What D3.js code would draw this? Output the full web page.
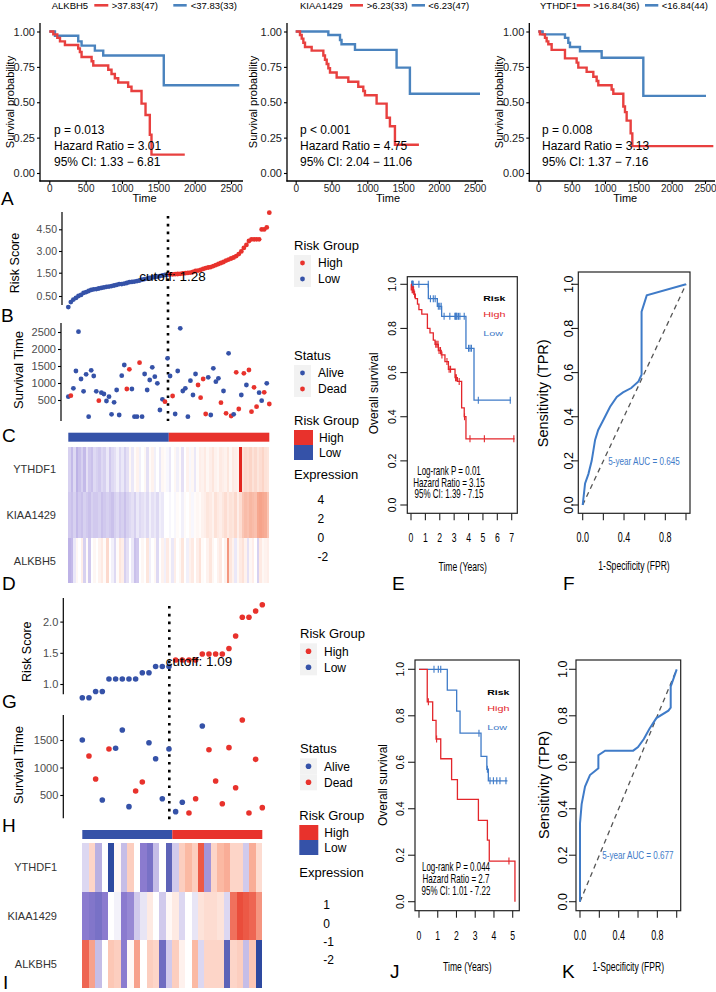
<!DOCTYPE html>
<html><head><meta charset="utf-8">
<script src="https://cdn.jsdelivr.net/npm/d3@7"></script>
<style>
body{margin:0;background:#fff}
text{font-family:"Liberation Sans",Arial,sans-serif}
</style></head>
<body>
<script>
// ---------------- DATA ----------------
// Top KM curves: [time(days), survival]; last entry = end of follow-up
const kmAlkbh5High = [[0,1],[55,0.98],[110,0.955],[147,0.93],[215,0.905],[398,0.88],[421,0.855],[444,0.82],[582,0.79],[605,0.76],[811,0.73],[856,0.70],[902,0.67],[948,0.64],[1085,0.61],[1131,0.58],[1269,0.49],[1324,0.41],[1383,0.27],[1406,0.13],[1864,0.13]];
const kmAlkbh5Low = [[0,1],[78,0.97],[398,0.93],[444,0.90],[627,0.865],[742,0.83],[1575,0.62],[2614,0.62]];
const kmKiaaHigh = [[0,1],[60,0.975],[84,0.95],[107,0.92],[130,0.89],[223,0.865],[386,0.83],[409,0.80],[433,0.77],[456,0.74],[479,0.71],[572,0.675],[735,0.645],[874,0.61],[944,0.58],[967,0.55],[1130,0.49],[1270,0.39],[1316,0.33],[1386,0.20],[1721,0.20]];
const kmKiaaLow = [[0,1],[456,0.975],[619,0.94],[640,0.91],[828,0.87],[1409,0.745],[1595,0.56],[2574,0.56]];
const kmYthdf1High = [[0,1],[25,0.98],[100,0.955],[125,0.93],[150,0.91],[200,0.87],[400,0.81],[575,0.78],[600,0.745],[725,0.715],[825,0.68],[875,0.65],[900,0.62],[1100,0.59],[1125,0.56],[1275,0.47],[1300,0.43],[1325,0.37],[1385,0.28],[1410,0.19],[2625,0.19]];
const kmYthdf1Low = [[0,1],[65,0.98],[400,0.955],[450,0.92],[475,0.89],[625,0.86],[950,0.815],[1575,0.545],[2515,0.545]];
const timeTicks = [0,500,1000,1500,2000,2500];
const survTicks = [0,0.25,0.5,0.75,1];

// Training cohort (B/C/D)
const riskB = [0.10,0.28,0.37,0.43,0.50,0.54,0.61,0.64,0.68,0.72,0.74,0.75,0.77,0.79,0.81,0.83,0.84,0.86,0.88,0.90,0.93,0.93,0.95,0.97,1.00,1.01,1.02,1.04,1.06,1.09,1.11,1.13,1.15,1.17,1.18,1.20,1.22,1.24,1.26,1.27,
1.29,1.29,1.31,1.33,1.36,1.40,1.44,1.47,1.51,1.55,1.62,1.65,1.69,1.76,1.82,1.86,1.89,1.96,2.03,2.10,2.17,2.24,2.34,2.41,2.48,2.55,2.65,2.79,2.97,3.21,3.42,3.69,3.81,3.81,3.81,3.81,4.49,4.49,4.63,5.65];
const survB = [597,626,844,1353,2510,1118,755,1255,10,1373,1206,755,480,715,676,470,597,79,432,794,59,1216,1529,824,1403,824,10,10,1597,10,1265,794,1088,1461,1186,990,206,520,451,1726,
1206,618,88,1353,2608,765,844,10,1069,647,1265,941,568,1118,88,1167,59,1432,1039,1138,421,765,108,1873,29,79,1314,235,647,1285,941,1382,157,873,304,715,480,726,990,382];
const statusB = [0,1,0,0,0,0,0,0,0,0, 0,0,1,0,0,0,0,0,0,0, 0,0,0,1,1,0,0,0,1,0, 0,0,0,0,0,0,0,0,1,0,
 0,1,0,0,0,0,0,0,0,0, 0,1,1,1,1,0,0,0,0,0, 1,0,1,0,1,0,1,1,0,1, 0,1,1,1,1,0,0,1,0,1];
const cutoffB = 1.28;
const riskTicksB = [0.5,1.5,3,4.5];
const survTicksB = [500,1000,1500,2000,2500];
const genes = ["YTHDF1","KIAA1429","ALKBH5"];
const exprB_YTHDF1 = [-0.6,-0.9,-0.5,-1.0,-0.8,-0.6,-0.9,-0.4,-0.7,-0.8,-0.5,-0.6,-0.7,
 -0.5,-0.6,-0.3,-0.7,-0.5,-0.4,-0.2,-0.5,-0.3,-0.6,-0.4,
 0.2,-0.3,0.1,0.3,-0.2,0.0,0.2,-0.4,0.1,0.3,-0.2,0.0,-0.3,0.2,0.1,-0.1,
 -0.3,0.0,0.2,-0.2,0.1,-0.4,0.0,0.3,-0.1,0.2,-0.3,0.1,0.4,
 0.3,0.5,0.2,0.4,0.6,0.3,0.2,0.5,0.4,0.3,0.6,0.2,0.5,0.4,0.3,
 4.3,
 0.7,0.9,0.8,1.0,0.7,0.9,0.6,0.8,1.0,0.7,0.6];
const exprB_KIAA1429 = [-0.7,-0.8,-0.6,-0.9,-0.7,-0.8,-0.6,-0.7,-0.8,-0.6,-0.7,-0.7,-0.6,-0.8,-0.7,-0.6,-0.7,-0.8,-0.6,-0.5,-0.7,-0.6,-0.8,-0.6,
 -0.5,-0.4,-0.6,-0.3,-0.5,-0.4,-0.3,-0.5,-0.2,-0.4,-0.3,-0.5,-0.2,-0.3,
 0.0,0.0,-0.1,0.0,
 -0.1,0.1,0.0,-0.2,0.1,0.0,0.2,-0.1,0.1,0.2,0.1,
 0.3,0.4,0.6,0.5,0.3,0.7,0.5,0.4,0.6,0.8,0.5,0.7,0.6,0.9,0.4,0.8,
 1.3,1.5,1.4,1.6,1.5,1.4,1.9,2.0,1.9,1.8,1.3];
const exprB_ALKBH5 = [-1.0,-0.9,-0.3,0.2, 0.0,0.4,-0.6,0.1, -0.7,0.0,0.2,0.0, 0.3,0.5,0.1,0.9,0.0, -0.2,-0.5,0.1,0.6,
 0.4,-0.6,-0.4,0.0, -0.3,-0.8,-0.7,0.0,0.2, 0.0,0.6,-0.2,0.0,0.2, -0.5,0.0,0.3,-0.2,0.5,
 0.1,-0.3,0.4,0.0,0.2, 0.6,0.0,-0.2,0.3,0.5, 0.0,0.4,0.7,0.1,0.0, 0.3,0.6,0.2,0.0,0.3,
 0.5,0.0,0.3,2.2,0.6, 0.3,-0.3,0.2,0.5,0.7, 0.3,-0.4,0.2,0.4,0.0, -0.6,0.5,0.2,0.3,0.4];
const exprLegendB = ["4","2","0","-2"];

// Validation cohort (G/H/I)
const riskG = [0.78,0.78,0.88,0.88,1.08,1.08,1.08,1.08,1.08,1.18,1.18,1.28,1.28,1.28,1.385,1.385,1.385,1.385,1.48,1.48,1.48,1.48,1.57,1.77,2.07,2.07,2.17,2.27];
const survG = [1500,1209,791,409,1336,1349,1682,288,573,736,1451,1160,433,1336,197,367,173,433,1755,1324,755,342,1361,633,1864,173,1148,270];
const statusG = [0,1,1,0,1,0,0,0,1,1,0,0,0,0,0,0,1,1,0,1,1,1,1,1,1,1,1,1];
const cutoffG = 1.09;
const riskTicksG = [1.0,1.5,2.0];
const survTicksG = [500,1000,1500];
const exprG_YTHDF1 = [-0.3,0.3,-0.6,0.0,-2.0,0.05,-0.5,0.35,0.0,-1.0,-1.2,-0.5,0.0,-1.5,-0.4,0.35,0.5,0.35,0.9,-0.8,0.3,0.5,0.55,0.3,0.3,-0.4,0.55,0.25];
const exprG_KIAA1429 = [-1.0,-1.1,-1.2,-1.0,0.0,-0.1,-1.0,-0.9,-0.4,-0.2,0.15,0.0,-0.4,0.05,0.15,-0.3,0.0,-0.2,0.2,0.25,0.25,0.2,-0.3,0.8,0.95,0.9,0.85,0.65];
const exprG_ALKBH5 = [0.85,0.6,-0.5,0.0,0.4,0.35,-1.0,0.05,0.6,0.0,0.35,0.3,-1.3,-0.4,0.35,0.1,0.0,0.5,-0.3,0.3,0.3,0.3,-1.5,0.3,0.35,-0.5,0.4,-2.0];
const exprLegendG = ["1","0","-1","-2"];

// E: training KM (years)
const kmE_high = [[0,1],[0.02,0.975],[0.2,0.955],[0.3,0.935],[0.45,0.91],[0.55,0.885],[0.75,0.865],[1.14,0.80],[1.32,0.78],[1.55,0.747],[1.67,0.728],[1.9,0.70],[2.1,0.68],[2.36,0.65],[2.6,0.615],[3.06,0.577],[3.22,0.56],[3.52,0.44],[3.7,0.40],[3.82,0.30],[7.2,0.30]];
const kmE_low = [[0,1],[1.205,0.935],[1.83,0.90],[2.13,0.855],[3.82,0.71],[4.38,0.475],[6.95,0.475]];
const censE_high = [0.08,0.12,0.18,0.25,1.72,1.8,1.88,1.95,2.05,2.15,2.5,2.65,2.75,3.1,3.15,3.35,3.72,4.1,5.1,7.15];
const censE_low = [0.05,0.08,0.1,0.12,0.15,0.55,1.2,1.35,1.55,1.68,1.9,2.0,2.1,2.3,2.7,3.05,3.1,3.15,3.2,3.3,3.4,3.7,4.0,4.1,4.2,4.68,6.9];
const statsE = ["Log-rank P = 0.01","Hazard Ratio = 3.15","95% CI: 1.39 - 7.15"];
// F: training ROC
const rocF_fpr = [0,0.023,0.055,0.087,0.12,0.15,0.2,0.265,0.33,0.39,0.47,0.54,0.57,0.57,0.62,1];
const rocF_tpr = [0,0.098,0.14,0.20,0.295,0.34,0.385,0.445,0.49,0.51,0.53,0.56,0.59,0.876,0.95,1];
const aucF = "5-year AUC = 0.645";
// J: validation KM
const kmJ_high = [[0,1],[0.44,0.86],[0.73,0.78],[0.91,0.70],[1.16,0.615],[1.74,0.525],[2.05,0.44],[3.17,0.35],[3.65,0.265],[3.75,0.175],[5.12,0.0]];
const kmJ_low = [[0,1],[1.51,0.91],[2.01,0.82],[2.19,0.725],[3.31,0.625],[3.62,0.57],[3.70,0.52],[4.72,0.52]];
const censJ_high = [0.5,0.94,4.8];
const censJ_low = [0.8,1.03,1.16,3.2,3.65,3.79,3.97,4.15,4.32,4.64];
const statsJ = ["Log-rank P = 0.044","Hazard Ratio = 2.7","95% CI: 1.01 - 7.22"];
// K: validation ROC
const rocK_fpr = [0,0,0.017,0.052,0.103,0.19,0.19,0.26,0.55,0.6,0.66,0.72,0.79,0.914,0.938,0.938,1];
const rocK_tpr = [0,0.337,0.42,0.495,0.545,0.574,0.63,0.65,0.65,0.665,0.70,0.745,0.79,0.822,0.835,0.925,1];
const aucK = "5-year AUC = 0.677";

// ---------------- DRAW ----------------
const FONT = '"Liberation Sans",Arial,sans-serif';
const RED = "#E8403F", BLUE = "#4A83BE";          // top KM
const DRED = "#E8322C", DBLUE = "#3552A8";        // ggplot dots / bars
const RRED = "#E3262B", RBLUE = "#3F7BC8";        // base R
const svg = d3.select("body").append("svg").attr("width",716).attr("height",992);
svg.append("rect").attr("width",716).attr("height",992).attr("fill","#fff");

function txt(x,y,s,o={}){
  const t = svg.append("text").text(s).attr("font-size",o.size||12).attr("fill",o.fill||"#000")
    .attr("text-anchor",o.anchor||"start");
  if(o.weight) t.attr("font-weight",o.weight);
  let tr = `translate(${x},${y})`;
  if(o.rot) tr += ` rotate(${o.rot})`;
  if(o.sx) tr += ` scale(${o.sx},1)`;
  if(o.sy) tr += ` scale(1,${o.sy})`;
  t.attr("transform",tr);
  return t;
}
function line(x1,y1,x2,y2,st="#000",w=1.2,dash=null){
  const l = svg.append("line").attr("x1",x1).attr("y1",y1).attr("x2",x2).attr("y2",y2)
    .attr("stroke",st).attr("stroke-width",w);
  if(dash) l.attr("stroke-dasharray",dash);
  return l;
}
function styleAxis(ax,size,fill){
  ax.attr("font-family",FONT).attr("font-size",size);
  ax.select(".domain").remove();
  ax.selectAll("text").attr("fill",fill);
  ax.selectAll("line").attr("stroke","#000").attr("stroke-width",1.1);
}
const intFmt = d3.format("d");

// ---- Panel A: three KM plots ----
const topCfg = [
 {gene:"ALKBH5",hiLab:">37.83(47)",loLab:"<37.83(33)",hi:kmAlkbh5High,lo:kmAlkbh5Low,x0:49.3,x1:231,ax:40,xEnd:243,
  leg:[51.7,94.3,108.3,111.7,173.3,186.7,190.7],txt:["p = 0.013","Hazard Ratio = 3.01","95% CI: 1.33 \u2212 6.81"],tx:54,ylab:10},
 {gene:"KIAA1429",hiLab:">6.23(33)",loLab:"<6.23(47)",hi:kmKiaaHigh,lo:kmKiaaLow,x0:295.7,x1:474.7,ax:287,xEnd:483,
  leg:[300,350,363,366.7,411.7,425,428.3],txt:["p < 0.001","Hazard Ratio = 4.75","95% CI: 2.04 \u2212 11.06"],tx:300,ylab:253},
 {gene:"YTHDF1",hiLab:">16.84(36)",loLab:"<16.84(44)",hi:kmYthdf1High,lo:kmYthdf1Low,x0:538.3,x1:705,ax:529.3,xEnd:715,
  leg:[540,576.7,590,593.3,645,658.3,661.7],txt:["p = 0.008","Hazard Ratio = 3.13","95% CI: 1.37 \u2212 7.16"],tx:542,ylab:499}
];
topCfg.forEach(c=>{
  const x = d3.scaleLinear().domain([0,2500]).range([c.x0,c.x1]);
  const y = d3.scaleLinear().domain([0,1]).range([173,31.5]);
  const ay = svg.append("g").attr("transform",`translate(${c.ax},0)`)
    .call(d3.axisLeft(y).tickValues(survTicks).tickFormat(d3.format(".2f")).tickSize(3).tickPadding(2));
  styleAxis(ay,11,"#222");
  const axb = svg.append("g").attr("transform",`translate(0,181)`)
    .call(d3.axisBottom(x).tickValues(timeTicks).tickFormat(intFmt).tickSize(3).tickPadding(1));
  styleAxis(axb,10,"#222");
  line(c.ax,23,c.ax,181.6,"#000",1.3);
  line(c.ax-0.6,181,c.xEnd,181,"#000",1.3);
  const lg = d3.line().x(d=>x(d[0])).y(d=>y(d[1])).curve(d3.curveStepAfter);
  svg.append("path").attr("d",lg(c.lo)).attr("fill","none").attr("stroke",BLUE).attr("stroke-width",2.4);
  svg.append("path").attr("d",lg(c.hi)).attr("fill","none").attr("stroke",RED).attr("stroke-width",2.4);
  c.txt.forEach((s,i)=>txt(c.tx,134+i*16,s,{size:12}));
  txt((c.ax+c.xEnd)/2+3,202,"Time",{size:11,anchor:"middle"});
  txt(c.ylab+4,102,"Survival probability",{size:11,anchor:"middle",rot:-90});
  const L=c.leg;
  txt(L[0],8.6,c.gene,{size:9.5});
  line(L[1],5.3,L[2],5.3,RED,2.6);
  txt(L[3],8.6,c.hiLab,{size:9.5});
  line(L[4],5.3,L[5],5.3,BLUE,2.6);
  txt(L[6],8.6,c.loLab,{size:9.5});
});

// ---- ggplot-like risk/survival panels ----
function riskPanel(o){
  const x = d3.scaleLinear().domain([0,o.risk.length-1]).range(o.xr);
  const yr = d3.scaleLinear().domain(o.rDom).range(o.rRange);
  const ar = svg.append("g").attr("transform",`translate(${o.ax},0)`)
    .call(d3.axisLeft(yr).tickValues(o.rTicks).tickFormat(d3.format(o.rFmt)).tickSize(3).tickPadding(2));
  styleAxis(ar,o.tickSize,"#4D4D4D");
  line(o.ax,o.rAxis[0],o.ax,o.rAxis[1],"#000",1.2);
  const ys = d3.scaleLinear().domain(o.sDom).range(o.sRange);
  const as = svg.append("g").attr("transform",`translate(${o.ax2},0)`)
    .call(d3.axisLeft(ys).tickValues(o.sTicks).tickFormat(intFmt).tickSize(3).tickPadding(2));
  styleAxis(as,o.tickSize2,"#4D4D4D");
  line(o.ax2,o.sAxis[0],o.ax2,o.sAxis[1],"#000",1.2);
  line(o.cutX,o.cutY[0],o.cutX,o.cutY[1],"#000",2.6,"2.6,5.2");
  svg.append("g").selectAll("circle").data(o.risk).join("circle")
    .attr("cx",(d,i)=>x(i)).attr("cy",d=>yr(d)).attr("r",o.r)
    .attr("fill",(d,i)=>i<o.nLow?DBLUE:DRED);
  svg.append("g").selectAll("circle").data(o.surv).join("circle")
    .attr("cx",(d,i)=>x(i)).attr("cy",d=>ys(d)).attr("r",o.r)
    .attr("fill",(d,i)=>o.status[i]?DRED:DBLUE);
  txt(o.cutTxt[0],o.cutTxt[1],"cutoff: "+o.cutoff,{size:13.5,anchor:"middle"});
  txt(o.rLab[0],o.rLab[1],"Risk Score",{size:12.5,anchor:"middle",rot:-90});
  txt(o.sLab[0],o.sLab[1],"Survival Time",{size:13,anchor:"middle",rot:-90});
  const lx=o.legX;
  txt(lx,o.leg1+4.7,"Risk Group",{size:13});
  [[o.leg1+18,DRED,"High"],[o.leg1+34,DBLUE,"Low"]].forEach(([cy,col,lab])=>{
    svg.append("rect").attr("x",lx).attr("y",cy-8).attr("width",17).attr("height",16).attr("fill","#F2F2F2");
    svg.append("circle").attr("cx",lx+8.5).attr("cy",cy).attr("r",o.r).attr("fill",col);
    txt(lx+24,cy+4.3,lab,{size:12});
  });
  txt(lx,o.leg2+4.7,"Status",{size:13});
  [[o.leg2+18,DBLUE,"Alive"],[o.leg2+34,DRED,"Dead"]].forEach(([cy,col,lab])=>{
    svg.append("rect").attr("x",lx).attr("y",cy-8).attr("width",17).attr("height",16).attr("fill","#F2F2F2");
    svg.append("circle").attr("cx",lx+8.5).attr("cy",cy).attr("r",o.r).attr("fill",col);
    txt(lx+24,cy+4.3,lab,{size:12});
  });
}
riskPanel({risk:riskB,surv:survB,status:statusB,nLow:40,xr:[68.3,269.3],
  rDom:[0.5,1.28,1.5,3,4.5],rRange:[296,274.4,272.7,251,229.3],rTicks:riskTicksB,rFmt:".2f",ax:62,rAxis:[212,305],tickSize:10.5,
  sDom:[0,2500],sRange:[417,332],sTicks:survTicksB,ax2:61,sAxis:[323,421],tickSize2:11,
  cutX:168,cutY:[216,421],cutoff:cutoffB,cutTxt:[172.5,280.5],r:2.4,
  rLab:[18.5,263],sLab:[23,370],legX:294,leg1:245,leg2:355});
riskPanel({risk:riskG,surv:survG,status:statusG,nLow:14,xr:[82.3,262.3],
  rDom:[1,2],rRange:[684,621.6],rTicks:riskTicksG,rFmt:".1f",ax:63.3,rAxis:[598,694.3],tickSize:11,
  sDom:[0,1500],sRange:[822.5,740],sTicks:survTicksG,ax2:63.3,sAxis:[715,818.3],tickSize2:11,
  cutX:169.3,cutY:[606,822],cutoff:cutoffG,cutTxt:[199,665.5],r:2.8,
  rLab:[31,651.7],sLab:[23,765],legX:300,leg1:633.3,leg2:748.3});

// ---- heatmaps ----
function heatmap(o){
  const n=o.rows[0].length;
  const x = d3.scaleBand().domain(d3.range(n)).range(o.xr);
  const y = d3.scaleBand().domain(genes).range(o.yr);
  const col = d3.scaleLinear().domain(o.cDom).range(o.cRange).clamp(true);
  const bw = x.bandwidth();
  // annotation bar: low segment + high segment
  svg.append("rect").attr("x",x(0)).attr("y",o.bar[0]).attr("width",x(o.nLow)-x(0)).attr("height",o.bar[1]-o.bar[0]).attr("fill",DBLUE);
  svg.append("rect").attr("x",x(o.nLow)).attr("y",o.bar[0]).attr("width",x(n-1)+bw-x(o.nLow)).attr("height",o.bar[1]-o.bar[0]).attr("fill",DRED);
  genes.forEach((g,r)=>{
    svg.append("g").attr("shape-rendering","crispEdges").selectAll("rect").data(o.rows[r]).join("rect")
      .attr("x",(d,i)=>x(i)).attr("y",y(g)).attr("width",(d,i)=>i<n-1?bw+0.8:bw).attr("height",y.bandwidth()+(r<2?0.8:0))
      .attr("fill",d=>col(d));
    txt(o.labX,y(g)+y.bandwidth()/2+4,g,{size:11,anchor:"end",fill:"#333"});
  });
  const lx=o.legX;
  txt(lx,o.leg+4.7,"Risk Group",{size:13});
  svg.append("rect").attr("x",lx).attr("y",o.leg+10).attr("width",19).attr("height",15).attr("fill",DRED);
  svg.append("rect").attr("x",lx).attr("y",o.leg+25).attr("width",19).attr("height",15).attr("fill",DBLUE);
  txt(lx+25,o.leg+22.3,"High",{size:12});
  txt(lx+25,o.leg+37.3,"Low",{size:12});
  txt(lx,o.exp+4.7,"Expression",{size:13});
  o.labels.forEach((s,i)=>txt(o.numX,o.nums[i]+4.3,s,{size:12}));
}
heatmap({rows:[exprB_YTHDF1,exprB_KIAA1429,exprB_ALKBH5],nLow:40,xr:[68.3,269.3],yr:[446.7,583.3],bar:[432.7,441.7],
  cDom:[-2,-1,0,1,2,4],cRange:["#6A5BC0","#BDB2E6","#FFFFFF","#FCD5C7","#F6A38A","#E3261F"],labX:56,
  legX:294,leg:420,exp:474,labels:exprLegendB,numX:317.5,nums:[500,519,538,557]});
heatmap({rows:[exprG_YTHDF1,exprG_KIAA1429,exprG_ALKBH5],nLow:14,xr:[82.3,262.3],yr:[843.3,988.3],bar:[830,839],
  cDom:[-2,-1,0,0.5,1],cRange:["#2E4AA0","#8B7BCF","#FFFFFF","#FBB9A3","#E8412F"],labX:57,
  legX:299.3,leg:815,exp:872.7,labels:exprLegendG,numX:323.3,nums:[905,923.3,941.7,960]});

// ---- base-R KM and ROC ----
function boxAxes(o){
  svg.append("rect").attr("x",o.box[0]).attr("y",o.box[1]).attr("width",o.box[2]-o.box[0]).attr("height",o.box[3]-o.box[1])
    .attr("fill","none").attr("stroke","#222").attr("stroke-width",1.2);
  o.xTicks.forEach(t=>{
    line(o.x(t),o.box[3],o.x(t),o.box[3]+7,"#222",1.1);
  });
  o.xLabels.forEach(t=>txt(o.x(t),o.xLabY,o.xFmt(t),{size:o.xLabSize,anchor:"middle",sx:0.64}));
  [0,0.2,0.4,0.6,0.8,1].forEach(t=>{
    line(o.box[0]-7,o.y(t),o.box[0],o.y(t),"#222",1.1);
    txt(o.yLabX,o.y(t),d3.format(".1f")(t),{size:o.yLabSize,anchor:"middle",rot:-90});
  });
  txt(o.xTitle[0],o.xTitle[1],o.xTitleS,{size:13,anchor:"middle",sx:0.66});
  txt(o.yTitle[0],o.yTitle[1],o.yTitleS,{size:o.yTitleSize,anchor:"middle",rot:-90});
}
function survAt(steps,t){let s=steps[0][1];steps.forEach(d=>{if(d[0]<=t)s=d[1];});return s;}
function basicKM(o){
  const x=d3.scaleLinear().domain([0,o.xMax]).range(o.xr);
  const y=d3.scaleLinear().domain([0,1]).range(o.yr);
  boxAxes({box:o.box,x,y,xTicks:d3.range(0,o.xMax+1),xLabels:d3.range(0,o.xMax+1),xFmt:d=>d,xLabY:o.xLabY,xLabSize:13.5,
    yLabX:o.yLabX,yLabSize:10.5,xTitle:o.xTitle,xTitleS:"Time (Years)",yTitle:o.yTitle,yTitleS:"Overall survival",yTitleSize:12});
  const lg=d3.line().x(d=>x(d[0])).y(d=>y(d[1])).curve(d3.curveStepAfter);
  [[o.low,o.cLow,RBLUE],[o.high,o.cHigh,RRED]].forEach(([st,cs,col])=>{
    svg.append("path").attr("d",lg(st)).attr("fill","none").attr("stroke",col).attr("stroke-width",1.3);
    cs.forEach(t=>{const yy=y(survAt(st,t));line(x(t),yy-3.5,x(t),yy+3.5,col,1.1);});
  });
  txt(o.leg[0],o.leg[1],"Risk",{size:7.5,weight:"bold",sx:1.4});
  txt(o.leg[0],o.leg[1]+15.5,"High",{size:8,fill:RRED,sx:1.35});
  txt(o.leg[0],o.leg[1]+35,"Low",{size:8,fill:RBLUE,sx:1.35});
  o.stats.forEach((s,i)=>txt(o.st[0],o.st[1]+i*o.st[2],s,{size:12.5,anchor:"middle",sx:0.64}));
}
function roc(o){
  const x=d3.scaleLinear().domain([0,1]).range(o.xr);
  const y=d3.scaleLinear().domain([0,1]).range(o.yr);
  boxAxes({box:o.box,x,y,xTicks:[0,0.2,0.4,0.6,0.8,1],xLabels:[0,0.4,0.8],xFmt:d3.format(".1f"),xLabY:o.xLabY,xLabSize:14,
    yLabX:o.yLabX,yLabSize:12.5,xTitle:o.xTitle,xTitleS:"1-Specificity (FPR)",yTitle:o.yTitle,yTitleS:"Sensitivity (TPR)",yTitleSize:14.5});
  line(x(0),y(0),x(1),y(1),"#555",1.3,"5,4");
  const lg=d3.line().x(d=>x(d[0])).y(d=>y(d[1]));
  svg.append("path").attr("d",lg(o.fpr.map((f,i)=>[f,o.tpr[i]]))).attr("fill","none").attr("stroke",RBLUE).attr("stroke-width",2);
  txt(o.auc[0],o.auc[1],o.aucS,{size:11.6,anchor:"middle",fill:RBLUE,sx:0.7});
}
basicKM({xMax:7,xr:[411,511.7],yr:[505,284.3],box:[407.3,276.7,517.3,513.3],xLabY:541.5,yLabX:396.4,
  xTitle:[462.7,570.7],yTitle:[378,393.3],high:kmE_high,low:kmE_low,cHigh:censE_high,cLow:censE_low,
  leg:[483.3,301],stats:statsE,st:[449,475.3,11.5]});
roc({xr:[582.7,686],yr:[505,284.3],box:[578.3,272,690,513.3],xLabY:541.5,yLabX:572.5,xTitle:[634,570],yTitle:[548,393.3],
  fpr:rocF_fpr,tpr:rocF_tpr,auc:[644,464.8],aucS:aucF});
basicKM({xMax:5,xr:[419,512.7],yr:[901.7,669.3],box:[415,660,519.3,910.7],xLabY:940,yLabX:404.4,
  xTitle:[467.3,971.4],yTitle:[387.3,785],high:kmJ_high,low:kmJ_low,cHigh:censJ_high,cLow:censJ_low,
  leg:[487.3,695.3],stats:statsJ,st:[456,870.6,12]});
roc({xr:[580,676.7],yr:[901.7,669.3],box:[576,660,680.7,910.7],xLabY:940,yLabX:566.5,xTitle:[628.3,971.4],yTitle:[548.7,785],
  fpr:rocK_fpr,tpr:rocK_tpr,auc:[637.9,859],aucS:aucK});

// ---- panel letters ----
[["A",1,205],["B",1,322],["C",2,442],["D",2,590],["E",392,590],["F",563,590],
 ["G",2,708],["H",2,832],["I",3,989],["J",390,978],["K",562,978]].forEach(([s,x,y])=>txt(x,y,s,{size:19}));
</script>
</body></html>
